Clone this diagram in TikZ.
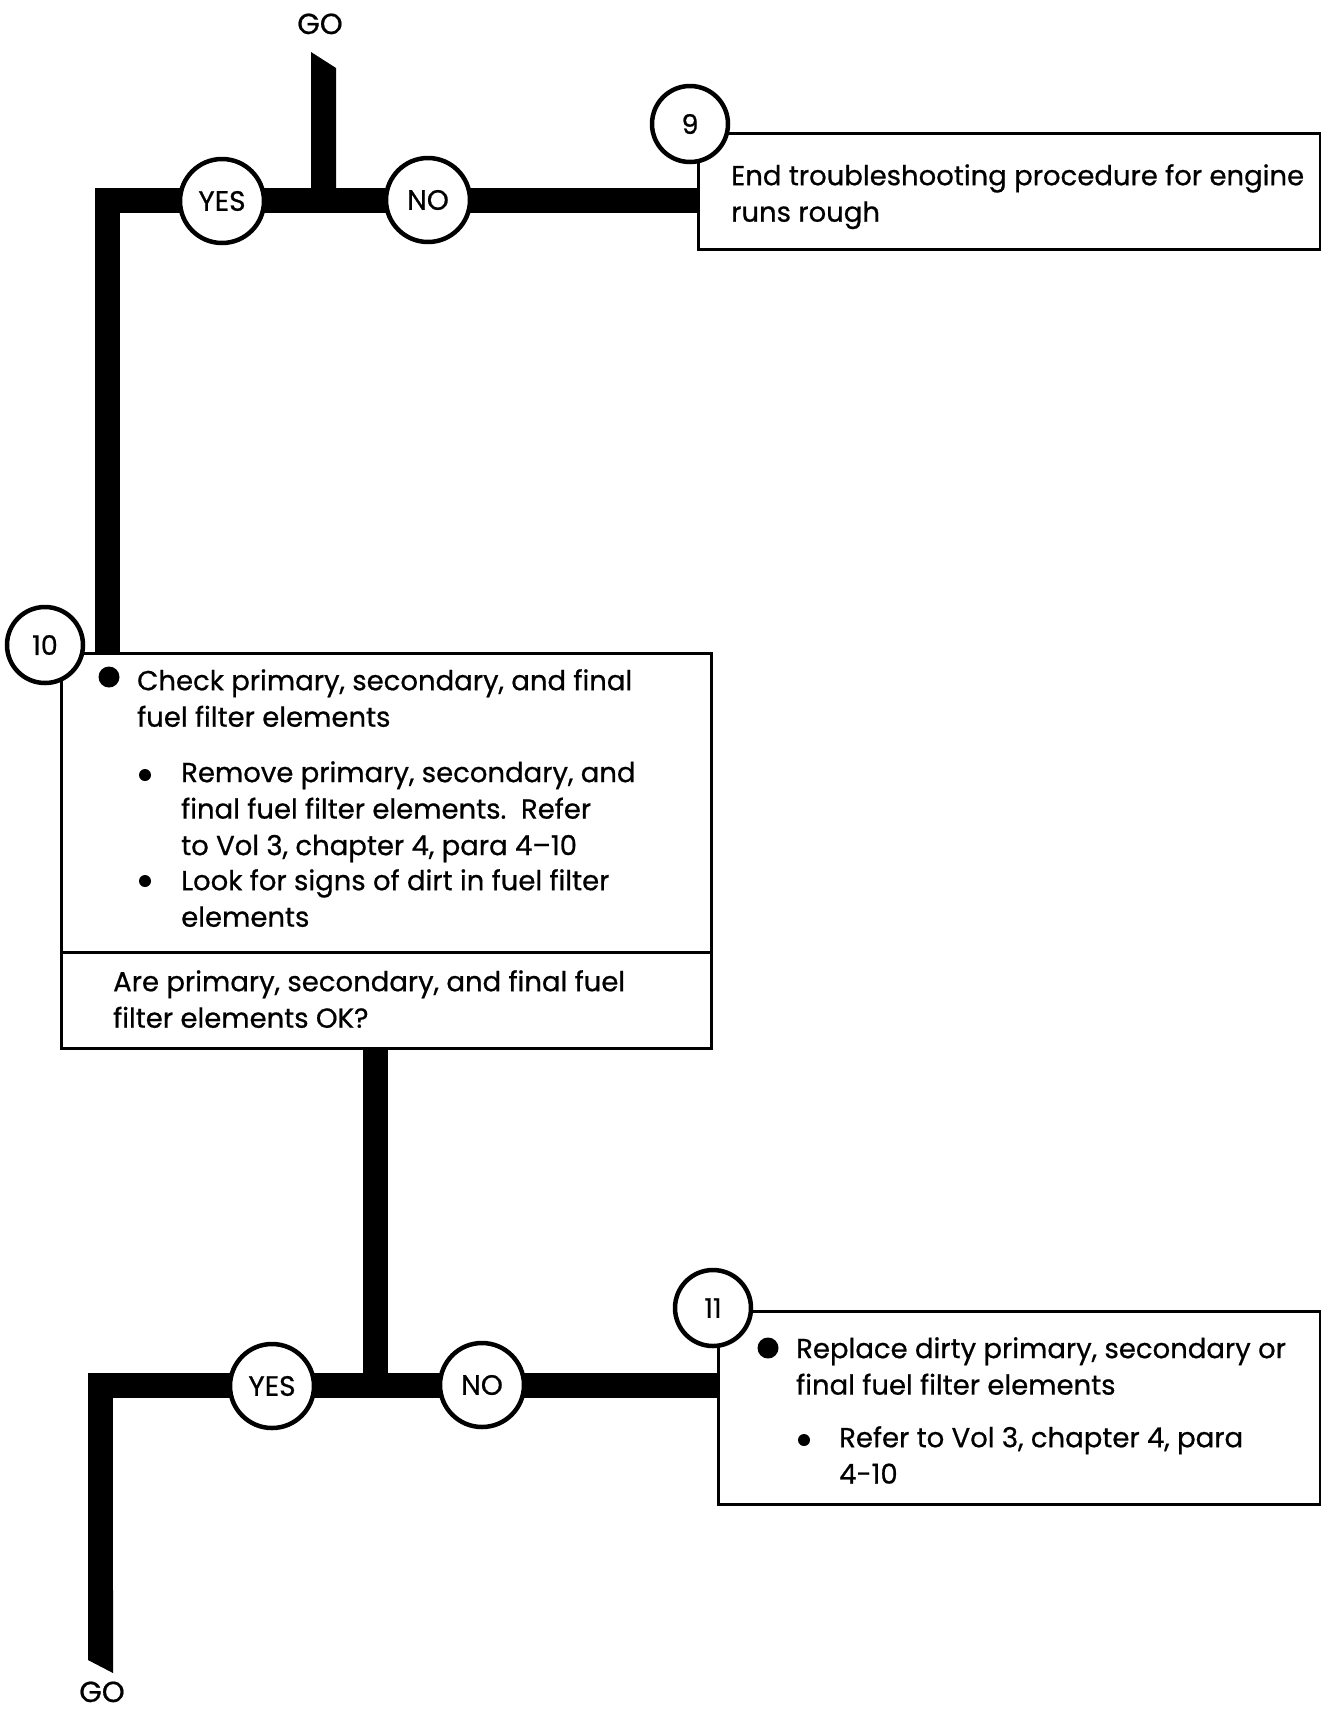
\documentclass[tikz,border=0pt]{standalone}
\usepackage{fontspec}
\setmainfont{Poppins}[FakeBold=0.7]
\usetikzlibrary{positioning}

\begin{document}
\begin{tikzpicture}[x=1pt,y=-1pt,
  bar/.style={line width=25pt,line join=miter},
  stepno/.style={circle,draw,line width=4.5pt,fill=white,minimum size=76pt,inner sep=0pt,font=\fontsize{27}{27}\selectfont},
  answer/.style={circle,draw,line width=4.5pt,fill=white,minimum size=84pt,inner sep=0pt,font=\fontsize{28}{28}\selectfont},
  stepbox/.style={draw,line width=3pt,anchor=north west,inner sep=0pt},
  txt/.style={anchor=north west,align=left,inner sep=0pt,font=\fontsize{27.5}{36.5}\selectfont},
  golabel/.style={anchor=base,inner sep=0pt,font=\fontsize{29}{29}\selectfont},
  bigdot/.style={circle,fill,minimum size=21pt,inner sep=0pt},
  smalldot/.style={circle,fill,minimum size=12pt,inner sep=0pt}]
  \useasboundingbox (0,0) rectangle (1321,1711);

  \node[stepbox,minimum width=622pt,minimum height=116pt] (b9) at (697,132) {};
  \node[stepbox,minimum width=650pt,minimum height=395pt] (b10) at (60,652) {};
  \node[stepbox,minimum width=602pt,minimum height=193pt] (b11) at (717,1310) {};
  \draw[line width=3pt] (b10.west |- 0,952) -- (b10.east |- 0,952);

  \node[golabel] (gotop) at (320,34) {GO};
  \node[golabel] (gobot) at (102,1702) {GO};

  \coordinate (c1) at (107.5,200);
  \coordinate (j1) at (323.5,200);
  \coordinate (c2) at (100.5,1385.5);
  \coordinate (j2) at (375.5,1385.5);
  \fill (311,52) -- (336,68) -- (336,200) -- (311,200) -- cycle;
  \draw[bar] (c1 |- b10.north) -- (c1) -- (c1 -| b9.west);
  \draw[bar] (j2 |- b10.south) -- (j2);
  \draw[bar] (c2 -| b11.west) -- (c2) -- (100.5,1600);
  \fill (88,1590) -- (88,1660) -- (113,1673) -- (113,1590) -- cycle;

  \node[answer] (yes1) at (222,201) {YES};
  \node[answer] (no1) at (428,200) {NO};
  \node[answer] (yes2) at (272,1386) {YES};
  \node[answer] (no2) at (482,1385) {NO};
  \node[stepno] (s9) at (690,124) {9};
  \node[stepno] (s10) at (45,645) {10};
  \node[stepno] (s11) at (713,1308) {11};

  \node[txt] (t9) at (731,164) {End troubleshooting procedure for engine\\runs rough};

  \node[bigdot] (d10) at (109,677) {};
  \node[txt] (t10) at (137,669) {Check primary, secondary, and final\\fuel filter elements};
  \node[smalldot] (d10a) at (145,775) {};
  \node[txt] (t10a) at (181,761) {Remove primary, secondary, and\\final fuel filter elements.\ \ Refer\\to Vol 3, chapter 4, para 4--10};
  \node[smalldot] (d10b) at (145,881) {};
  \node[txt] (t10b) at (181,869) {Look for signs of dirt in fuel filter\\elements};
  \node[txt] (q10) at (113,970) {Are primary, secondary, and final fuel\\filter elements OK?};

  \node[bigdot] (d11) at (768,1348) {};
  \node[txt] (t11) at (796,1337) {Replace dirty primary, secondary or\\final fuel filter elements};
  \node[smalldot] (d11a) at (804,1440) {};
  \node[txt] (t11a) at (839,1426) {Refer to Vol 3, chapter 4, para\\4-10};
\end{tikzpicture}
\end{document}
